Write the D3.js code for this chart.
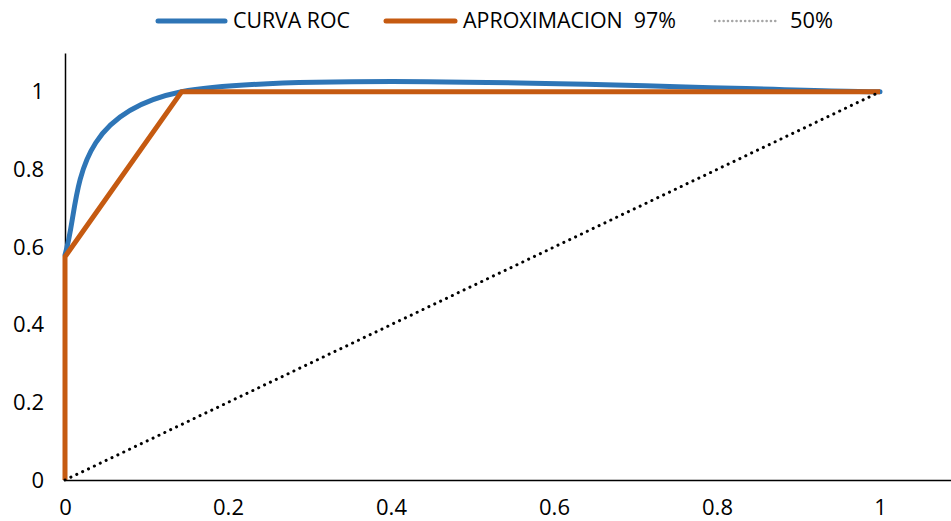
<!DOCTYPE html>
<html>
<head>
<meta charset="utf-8">
<script src="https://cdn.jsdelivr.net/npm/d3@7"></script>
<style>
  body { margin: 0; background: #fff; }
  svg { display: block; }
  text { font-family: "Open Sans", sans-serif; fill: #000; }
</style>
</head>
<body>
<div id="chart"></div>
<script>
// ROC curve points (false positive rate, true positive rate)
const rocX = [0, 0, 0.143, 1, 1];
const rocY = [0, 0.58, 1, 1, 1];
// straight approximation
const aproxX = [0, 0, 0.143, 1];
const aproxY = [0, 0.575, 1, 1];
// chance line
const chanceX = [0, 1];
const chanceY = [0, 1];

const xTicks = [0, 0.2, 0.4, 0.6, 0.8, 1];
const yTicks = [0, 0.2, 0.4, 0.6, 0.8, 1];
const legendNames = ["CURVA ROC", "APROXIMACION  97%", "50%"];

const width = 951, height = 521;
const margin = { top: 53, left: 65, bottom: 41 };

const svg = d3.select("#chart").append("svg")
  .attr("width", width)
  .attr("height", height);

const x = d3.scaleLinear().domain([0, 1.1]).range([margin.left, margin.left + 1.1 * 815]);
const y = d3.scaleLinear().domain([0, 1.1]).range([height - margin.bottom, margin.top]);

const zip = (xs, ys) => xs.map((v, i) => [v, ys[i]]);

// axes (no tick marks, just labels)
const xAxis = svg.append("g")
  .attr("transform", "translate(0," + y(0) + ")")
  .call(d3.axisBottom(x).tickValues(xTicks).tickSize(0).tickPadding(19).tickFormat(d3.format("")));
xAxis.select(".domain").attr("stroke", "#000").attr("stroke-width", 1.5);
xAxis.selectAll("text").style("font-size", "22px");

const yAxis = svg.append("g")
  .attr("transform", "translate(" + x(0) + ",0)")
  .call(d3.axisLeft(y).tickValues(yTicks).tickSize(0).tickPadding(21).tickFormat(d3.format("")));
yAxis.select(".domain").attr("stroke", "#000").attr("stroke-width", 1.5);
yAxis.selectAll("text").style("font-size", "22px");

// lines
const smooth = d3.line()
  .x(d => x(d[0]))
  .y(d => y(d[1]))
  .curve(d3.curveCardinalOpen.tension(0.15));

const straight = d3.line()
  .x(d => x(d[0]))
  .y(d => y(d[1]));

svg.append("path")
  .datum(zip(rocX, rocY))
  .attr("d", smooth)
  .attr("fill", "none")
  .attr("stroke", "#2E75B6")
  .attr("stroke-width", 5)
  .attr("stroke-linecap", "round");

svg.append("path")
  .datum(zip(aproxX, aproxY))
  .attr("d", straight)
  .attr("fill", "none")
  .attr("stroke", "#C55A11")
  .attr("stroke-width", 5)
  .attr("stroke-linejoin", "round");

svg.append("path")
  .datum(zip(chanceX, chanceY))
  .attr("d", straight)
  .attr("fill", "none")
  .attr("stroke", "#000")
  .attr("stroke-width", 3)
  .attr("stroke-linecap", "round")
  .attr("stroke-dasharray", "0.1,6.4");

// legend
const legendItems = [
  { line: [158, 225], tx: 233, tw: 117, color: "#2E75B6", w: 5, dash: null },
  { line: [386, 455], tx: 463, tw: 213, color: "#C55A11", w: 5, dash: null },
  { line: [715, 777], tx: 790, tw: 43, color: "#a6a6a6", w: 2.5, dash: "0.1,4.2" }
];
const leg = svg.append("g");
legendItems.forEach((d, i) => {
  leg.append("line")
    .attr("x1", d.line[0]).attr("x2", d.line[1])
    .attr("y1", 21).attr("y2", 21)
    .attr("stroke", d.color)
    .attr("stroke-width", d.w)
    .attr("stroke-linecap", "round")
    .attr("stroke-dasharray", d.dash);
  leg.append("text")
    .attr("x", d.tx)
    .attr("y", 21)
    .attr("dy", "0.35em")
    .attr("textLength", d.tw)
    .attr("lengthAdjust", "spacingAndGlyphs")
    .style("white-space", "pre")
    .style("font-size", "21px")
    .text(legendNames[i]);
});
</script>
</body>
</html>
